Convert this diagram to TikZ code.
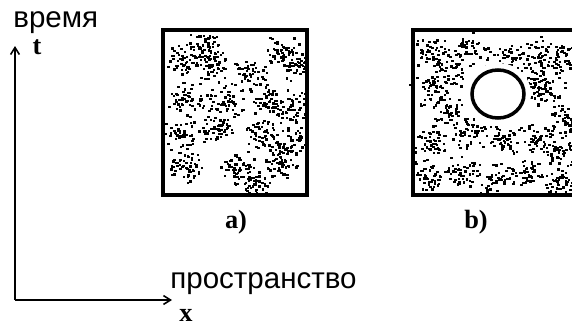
\documentclass[tikz,border=0pt]{standalone}
\usepackage{fontspec}
\setmainfont{Liberation Serif}
\newfontfamily\cyrfont{Liberation Sans}
\usetikzlibrary{arrows.meta, positioning}

\begin{document}
\begin{tikzpicture}[
  x=0.02cm, y=-0.02cm,
  axis/.style={-{Straight Barb[length=4pt, width=5pt]}, line width=0.9pt},
  frame/.style={line width=2.1pt},
  ring/.style={line width=2pt},
  axislabel/.style={font=\cyrfont\fontsize{16.8}{16.8}\selectfont, inner sep=0pt, anchor=west},
  varlabel/.style={font=\bfseries\fontsize{15}{15}\selectfont, inner sep=0pt},
  caption/.style={font=\bfseries\fontsize{15}{15}\selectfont, inner sep=0pt},
]
\useasboundingbox (0,0) rectangle (572,325);

% Axes
\coordinate (O) at (15,300);
\coordinate (T) at (15,46);
\coordinate (X) at (172,300);
\draw[axis] (O) -- (T);
\draw[axis] (O) -- (X);

\node[axislabel] (time) at (13,23) {время};
\node[varlabel] (t) at (37,47) {t};
\node[axislabel] (space) at (170,284) {пространство};
\node[varlabel] (x) at (186,315) {x};

% Panel a)
\begin{scope}
  \clip (165,32) rectangle (305,193);
  \pgfmathsetseed{11}
  \foreach \cx/\cy in {182/58, 212/66, 250/74, 280/52, 298/64, 186/96, 226/100,
                       292/108, 180/132, 215/130, 262/132, 290/142, 186/166,
                       236/166, 282/162, 250/182, 202/46, 270/98} {
    \foreach \k in {1,...,52} {
      \pgfmathsetmacro\dx{20*(rand+rand)/2}
      \pgfmathsetmacro\dy{18*(rand+rand)/2}
      \pgfmathsetmacro\dw{2+1.2*rnd}
      \fill (\cx+\dx,\cy+\dy) rectangle ++(\dw,2.2);
    }
  }
\end{scope}
\draw[frame] (163,30) rectangle (307,195);
\node[caption] (capa) at (236,222) {a)};

% Panel b)
\begin{scope}
  \clip (415,32) rectangle (572,193);
  \pgfmathsetseed{23}
  \foreach \cx/\cy in {432/52, 468/48, 505/58, 540/50, 565/60, 430/90, 448/112,
                       548/92, 565/118, 432/140, 470/132, 500/140, 535/138,
                       560/150, 428/176, 462/172, 495/178, 525/172, 556/182,
                       450/70, 530/80} {
    \foreach \k in {1,...,46} {
      \pgfmathsetmacro\dx{20*(rand+rand)/2}
      \pgfmathsetmacro\dy{18*(rand+rand)/2}
      \pgfmathsetmacro\dw{2+1.2*rnd}
      \fill (\cx+\dx,\cy+\dy) rectangle ++(\dw,2.2);
    }
  }
  \fill[white] (498,94) ellipse [x radius=33, y radius=31];
\end{scope}
\draw[ring] (498,94) ellipse [x radius=26, y radius=24];
\draw[frame] (574,30) -- (413,30) -- (413,195) -- (574,195);
\draw[line width=0.6pt] (409,85) -- (413,85);
\node[caption] (capb) at (476,222) {b)};
\end{tikzpicture}
\end{document}
